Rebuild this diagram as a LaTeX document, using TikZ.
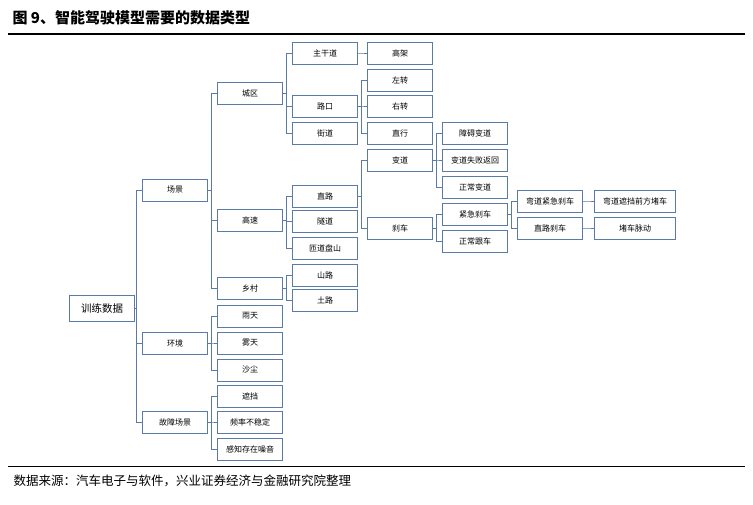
\documentclass[tikz,border=0pt]{standalone}
\usepackage{fontspec}
\newfontfamily\cjk{Noto Sans CJK SC}
\tikzset{
  box/.style={draw=boxline, fill=white, line width=0.6pt, minimum width=65pt,
    minimum height=22pt, inner sep=0pt, font=\cjk\fontsize{8}{9}\selectfont},
  wide/.style={box, minimum width=81pt},
  link/.style={draw=boxline, line width=0.6pt}
}
\definecolor{boxline}{HTML}{5A7BA5}
% elbow from parent to child, bus just left of the child
\newcommand{\branch}[2]{\draw[link] (#1.east) -| ([xshift=-6pt]#2.west) -- (#2.west);}

\begin{document}
\begin{tikzpicture}[x=1pt,y=-1pt]
    \useasboundingbox (0,0) rectangle (753,505);

    %% Title and source
    \node[anchor=west, font=\cjk\bfseries\fontsize{15}{17}\selectfont] (title) at (9,18) {图 9、智能驾驶模型需要的数据类型};
    \draw[line width=1.2pt] (8,34) -- (745,34);
    \draw[line width=0.6pt] (8,466) -- (745,466);
    \node[anchor=west, font=\cjk\fontsize{12.5}{14}\selectfont] (source) at (10,481) {数据来源：汽车电子与软件，兴业证券经济与金融研究院整理};

    %% Root and first level
    \node[box, minimum height=26pt] (data) at (102,308) {\fontsize{10.5}{12}\selectfont 训练数据};
    \node[box] (scene) at (175,190) {场景};
    \node[box] (env) at (175,343) {环境};
    \node[box] (fault) at (175,422) {故障场景};

    %% Second level
    \node[box] (city) at (250,93) {城区};
    \node[box] (highway) at (250,220) {高速};
    \node[box] (rural) at (250,288) {乡村};
    \node[box] (rain) at (250,316) {雨天};
    \node[box] (fog) at (250,343) {雾天};
    \node[box] (dust) at (250,370) {沙尘};
    \node[box] (occl) at (250,396) {遮挡};
    \node[box] (freq) at (250,422) {频率不稳定};
    \node[box] (noise) at (250,449) {感知存在噪音};

    %% Third level
    \node[box] (trunk) at (325,53) {主干道};
    \node[box] (cross) at (325,106) {路口};
    \node[box] (street) at (325,133) {街道};
    \node[box] (straight) at (325,196) {直路};
    \node[box] (tunnel) at (325,221) {隧道};
    \node[box] (ramp) at (325,248) {匝道盘山};
    \node[box] (mount) at (325,275) {山路};
    \node[box] (dirt) at (325,300) {土路};

    %% Fourth level
    \node[box] (elev) at (400,53) {高架};
    \node[box] (left) at (400,80) {左转};
    \node[box] (right) at (400,106) {右转};
    \node[box] (ahead) at (400,133) {直行};
    \node[box] (lane) at (400,160) {变道};
    \node[box] (brake) at (400,228) {刹车};

    %% Fifth level
    \node[box] (obst) at (475,133) {障碍变道};
    \node[box] (fail) at (475,160) {变道失败返回};
    \node[box] (normlane) at (475,187) {正常变道};
    \node[box] (emerg) at (475,214) {紧急刹车};
    \node[box] (follow) at (475,241) {正常跟车};

    %% Sixth and seventh level
    \node[box] (curve) at (550,201) {弯道紧急刹车};
    \node[box] (strbrake) at (550,228) {直路刹车};
    \node[wide] (jam) at (635,201) {弯道遮挡前方堵车};
    \node[wide] (pulse) at (635,228) {堵车脉动};

    %% Connectors
    \foreach \c in {scene,env,fault} {\branch{data}{\c}}
    \foreach \c in {city,highway,rural} {\branch{scene}{\c}}
    \foreach \c in {rain,fog,dust} {\branch{env}{\c}}
    \foreach \c in {occl,freq,noise} {\branch{fault}{\c}}
    \foreach \c in {trunk,cross,street} {\branch{city}{\c}}
    \foreach \c in {straight,tunnel,ramp} {\branch{highway}{\c}}
    \foreach \c in {mount,dirt} {\branch{rural}{\c}}
    \branch{trunk}{elev}
    \foreach \c in {left,right,ahead} {\branch{cross}{\c}}
    \foreach \c in {lane,brake} {\branch{straight}{\c}}
    \foreach \c in {obst,fail,normlane} {\branch{lane}{\c}}
    \foreach \c in {emerg,follow} {\branch{brake}{\c}}
    \foreach \c in {curve,strbrake} {\branch{emerg}{\c}}
    \branch{curve}{jam}
    \branch{strbrake}{pulse}

\end{tikzpicture}
\end{document}
